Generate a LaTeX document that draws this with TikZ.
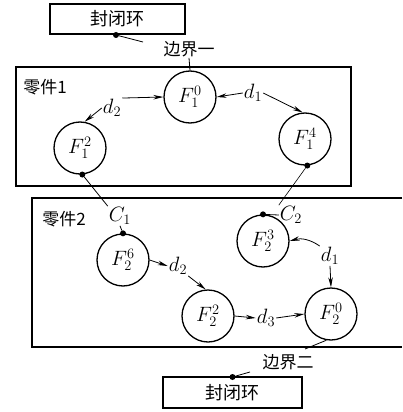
\documentclass[tikz,border=0pt]{standalone}
\usepackage{fontspec}
\newfontfamily\cjk{Noto Sans CJK SC}
\usetikzlibrary{arrows.meta}
\begin{document}
\begin{tikzpicture}[x=1pt,y=-1pt,
  feat/.style={circle,draw,line width=1.3pt,minimum size=52pt,inner sep=0pt,font=\fontsize{22}{24}\selectfont},
  lbl/.style={inner sep=1pt,font=\fontsize{21}{23}\selectfont},
  cn/.style={inner sep=1pt,font=\cjk\fontsize{17}{19}\selectfont},
  closebox/.style={draw,line width=1.5pt,minimum width=135pt,minimum height=30pt,inner sep=0pt,font=\cjk\fontsize{18}{20}\selectfont},
  arr/.style={-{Stealth[length=10pt,width=4.5pt]},line width=0.8pt},
  ln/.style={line width=0.8pt},
  dotn/.style={circle,fill,inner sep=0pt,minimum size=6pt},
  part/.style={line width=1.5pt}
]
\useasboundingbox (0,0) rectangle (402,412);
% closing-ring boxes
\node[closebox] (top) at (117.5,19) {封闭环};
\node[closebox,minimum width=139pt,minimum height=31pt] (bot) at (232.5,392.5) {封闭环};
% part containers
\draw[part] (16,67) rectangle (351,186);
\draw[part] (402,198) -- (32,198) -- (32,347) -- (402,347);
\node[cn] (p1) at (45,87) {零件1};
\node[cn] (p2) at (64,219) {零件2};
% feature circles
\node[feat] (F10) at (190,97) {$F_1^0$};
\node[feat] (F14) at (305,139) {$F_1^4$};
\node[feat] (F12) at (80,148) {$F_1^2$};
\node[feat] (F26) at (123,260) {$F_2^6$};
\node[feat] (F23) at (263,241) {$F_2^3$};
\node[feat] (F22) at (208,316) {$F_2^2$};
\node[feat] (F20) at (331,314) {$F_2^0$};
% labels
\node[cn] (bj1) at (189,49) {边界一};
\node[cn] (bj2) at (288,362) {边界二};
\node[lbl] (d1a) at (253,93) {$d_1$};
\node[lbl] (d2a) at (112,108) {$d_2$};
\node[lbl] (C1) at (120,216) {$C_1$};
\node[lbl] (C2) at (291,215) {$C_2$};
\node[lbl] (d1b) at (330,256) {$d_1$};
\node[lbl] (d2b) at (178,266) {$d_2$};
\node[lbl] (d3) at (266,318) {$d_3$};
% dots
\node[dotn] (td) at (116,35) {};
\node[dotn] (bd) at (232.5,377) {};
\node[dotn] (d12) at (F12.-85) {};
\node[dotn] (d14) at (F14.-85) {};
\node[dotn] (d26) at (F26.north) {};
\node[dotn] (d23) at (F23.north) {};
% free ends
\coordinate (e1) at (143,42);
\coordinate (e2) at (305,349);
\coordinate (e3) at (250,372);
% connectors
\draw[ln] (td) -- (e1);
\draw[ln] (bj1.south) -- (F10.north);
\draw[arr] (d2a.north east) -- (F10.west);
\draw[arr] (d2a.west) -- (F12.80);
\draw[arr] (d1a.west) -- (F10.east);
\draw[arr] (d1a.east) -- (F14.95);
\draw[ln] (d12) -- (C1.north west);
\draw[ln,line width=0.6pt] (d14) -- (C2.north west);
\draw[ln] (C1.south) -- (d26);
\draw[ln] (C2.west) -- (d23);
\draw[arr] (F26.east) -- (d2b.west);
\draw[arr] (d2b.south east) -- (F22.95);
\draw[arr] (d1b.north west) to[bend right=25] (F23.east);
\draw[arr] (d1b.south) -- (F20.north);
\draw[arr] (F22.east) -- (d3.west);
\draw[arr] (d3.east) -- (F20.west);
\draw[ln] (F20.-100) -- (e2);
\draw[ln] (e3) -- (bd);
\end{tikzpicture}
\end{document}
